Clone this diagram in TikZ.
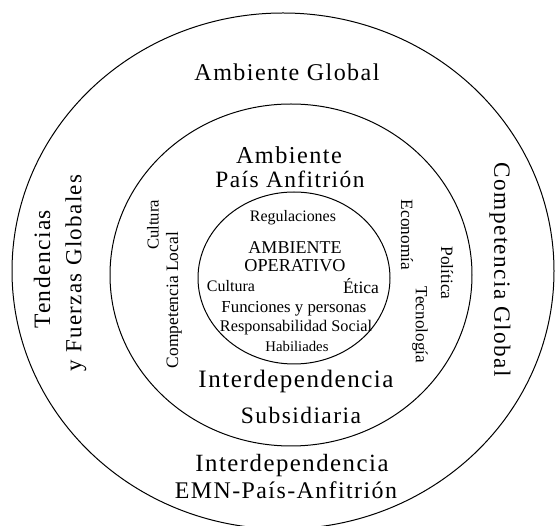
\documentclass[tikz,border=0pt]{standalone}
\usepackage{fontspec}
\usepackage{graphicx}
\setmainfont{Liberation Serif}
\newfontfamily\spacedfont[LetterSpace=6]{Liberation Serif}
\newfontfamily\smallfont{Liberation Serif}
\newcommand\fitw[2]{\resizebox{#1pt}{!}{#2}}
\tikzset{
  ring/.style={draw=black, line width=1pt},
  lbl/.style={inner sep=0pt, outer sep=0pt, anchor=center},
}
\begin{document}
\begin{tikzpicture}[x=1pt,y=-1pt]
\useasboundingbox (0,0) rectangle (555,526);
\fill[white] (0,0) rectangle (555,526);
% rings
\draw[ring] (283,271) ellipse [x radius=271, y radius=258];
\draw[ring] (291,275) ellipse [x radius=181, y radius=171];
\draw[ring] (294,278) ellipse [x radius=96, y radius=86];
% outer ring texts
\node[lbl] (ag) at (287,72) {\fitw{185}{\spacedfont Ambiente Global}};
\node[lbl, rotate=90] (tend) at (42,269) {\fitw{118}{\spacedfont Tendencias}};
\node[lbl, rotate=90] (fuer) at (76,273) {\fitw{197}{\spacedfont y Fuerzas Globales}};
\node[lbl, rotate=-90] (cg) at (500,270) {\fitw{214}{\spacedfont Competencia Global}};
\node[lbl] (int2) at (292,466) {\fitw{193}{\spacedfont Interdependencia}};
\node[lbl] (emn) at (286,490) {\fitw{222}{\spacedfont EMN-País-Anfitrión}};
% middle ring texts
\node[lbl] (amb) at (289,155) {\fitw{106}{\spacedfont Ambiente}};
\node[lbl] (pa) at (290,179) {\fitw{149}{\spacedfont País Anfitrión}};
\node[lbl, rotate=90] (cul2) at (153,225) {\fitw{50}{\smallfont Cultura}};
\node[lbl, rotate=90] (cloc) at (174,300) {\fitw{136}{\smallfont Competencia Local}};
\node[lbl, rotate=-90] (eco) at (407,235) {\fitw{70}{\smallfont Economía}};
\node[lbl, rotate=-90] (pol) at (447,273) {\fitw{53}{\smallfont Política}};
\node[lbl, rotate=-90] (tec) at (420,325) {\fitw{76}{\smallfont Tecnología}};
\node[lbl] (int1) at (296,381) {\fitw{195}{\spacedfont Interdependencia}};
\node[lbl] (sub) at (301,415) {\fitw{120}{\spacedfont Subsidiaria}};
% inner circle texts
\node[lbl] (reg) at (293,218) {\fitw{86}{\smallfont Regulaciones}};
\node[lbl] (ao1) at (295,248) {\fitw{93}{\smallfont AMBIENTE}};
\node[lbl] (ao2) at (295,266) {\fitw{101}{\smallfont OPERATIVO}};
\node[lbl] (cul1) at (231,286) {\fitw{48}{\smallfont Cultura}};
\node[lbl] (eti) at (361,286) {\fitw{36}{\smallfont Ética}};
\node[lbl] (fun) at (294,309) {\fitw{145}{\smallfont Funciones y personas}};
\node[lbl] (res) at (296,328) {\fitw{152}{\smallfont Responsabilidad Social}};
\node[lbl] (hab) at (297,346) {\fitw{63}{\smallfont Habiliades}};
\end{tikzpicture}
\end{document}
